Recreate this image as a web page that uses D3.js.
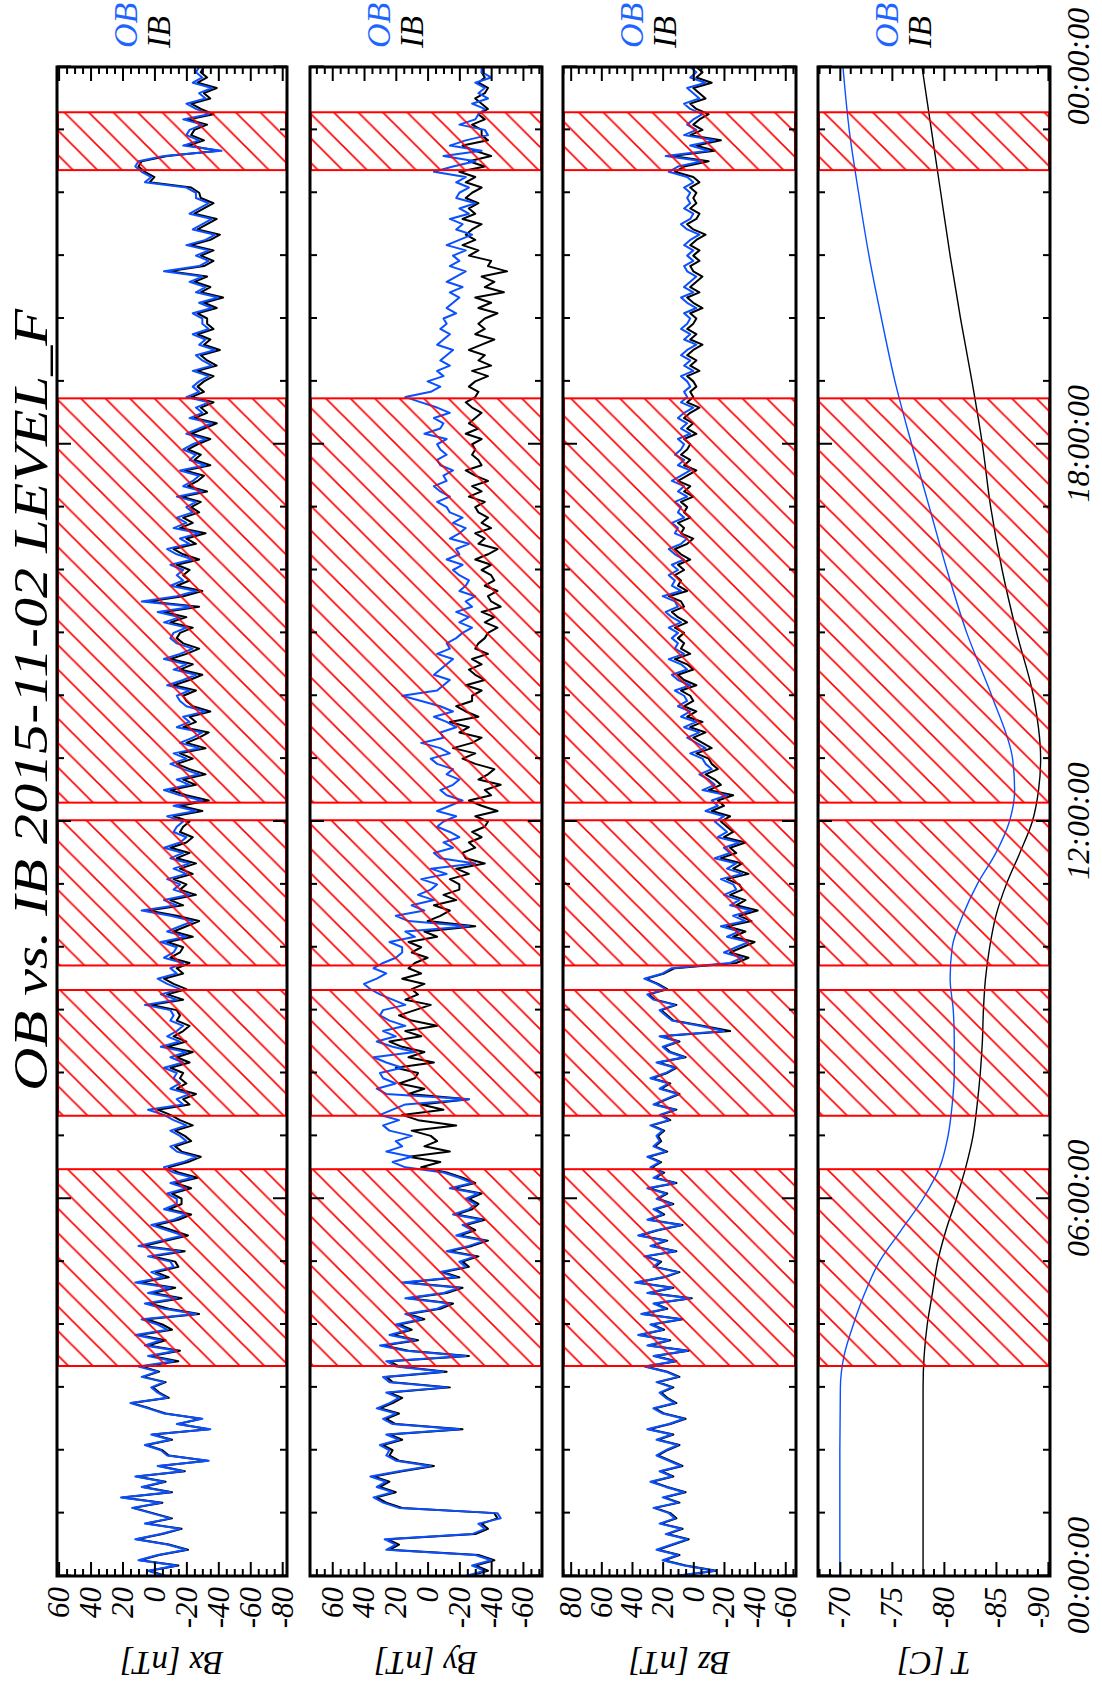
<!DOCTYPE html>
<html><head><meta charset="utf-8">
<script src="https://cdn.jsdelivr.net/npm/d3@7"></script>
<style>body{margin:0;background:#fff}svg{display:block}text{font-family:"Liberation Serif","DejaVu Serif",serif;font-style:italic}</style>
</head><body>
<svg id="c" width="1102" height="1685"></svg>
<script>
// ---------------- DATA ----------------
const titleText = "OB vs. IB  2015-11-02 LEVEL_F";
const timeTicks = [0, 6, 12, 18, 24];
const timeLabels = ["00:00:00", "06:00:00", "12:00:00", "18:00:00", "00:00:00"];
const shadeStart = [3.34, 7.32, 9.71, 12.30, 22.36];
const shadeEnd   = [6.47, 9.32, 12.02, 18.73, 23.28];

// B field: samples every 5 minutes, 00:00 .. 24:00 (one row per hour)
const bxOB = [
 -6,4,-14,10,-2,-20,-8,12,-4,-16,6,-10,
 2,14,-4,21,-10,8,-6,12,-18,-2,-34,-8,
 -4,6,-10,2,-35,-14,-30,-6,4,15,-8,-2,
 2,-6,8,-2,10,-12,4,-14,6,-4,12,-8,
 -2,8,-26,-6,6,-14,4,-10,12,-6,2,-12,
 -10,4,-16,10,-4,-18,-8,2,-12,-20,-6,-14,
 -14,-8,-20,-10,-24,-12,-6,-18,-26,-14,-10,-20,
 -16,-10,-20,-12,-6,4,-18,-14,-22,-10,-16,-12,
 -14,-6,-18,-10,-20,-4,-16,-8,-14,-18,-10,-12,
 -10,6,-14,-4,-16,-8,-2,-14,-10,-18,-6,-12,
 -14,-4,-20,-8,-16,-24,-10,8,-14,-6,-22,-12,
 -16,-8,-20,-12,-22,-10,-18,-6,-16,-20,-12,-14,
 -18,-8,-26,-12,-30,-16,-6,-22,-14,-28,-18,-10,
 -20,-12,-28,-16,-24,-30,-14,-22,-18,-32,-20,-16,
 -14,-22,-8,-18,-26,-12,-20,-6,-16,-24,-14,-10,
 -12,-20,-6,-16,-2,-24,8,-14,-26,-10,-18,-14,
 -18,-10,-24,-14,-8,-22,-16,-28,-12,-20,-14,-24,
 -20,-26,-14,-30,-18,-24,-28,-16,-32,-22,-26,-18,
 -24,-32,-20,-28,-36,-22,-30,-26,-34,-20,-28,-24,
 -28,-34,-24,-36,-30,-26,-38,-28,-32,-24,-34,-30,
 -30,-24,-36,-28,-40,-26,-32,-22,-30,-6,-28,-34,
 -26,-34,-20,-32,-38,-24,-30,-36,-22,-28,-34,-26,
 -26,-20,6,2,8,12,10,-6,-42,-18,-28,-20,
 -22,-30,-18,-34,-26,-20,-32,-28,-36,-24,-30,-26,
 -28];
const bxIB = [
 -7,3,-15,9,-3,-21,-9,11,-5,-17,5,-11,
 1,13,-5,20,-11,7,-7,11,-19,-3,-33,-9,
 -5,5,-11,1,-34,-15,-29,-7,3,14,-9,-3,
 1,-7,7,-3,8,-15,2,-16,4,-7,10,-11,
 -5,5,-28,-9,3,-17,1,-13,9,-9,-1,-15,
 -13,1,-19,7,-7,-21,-11,-1,-15,-23,-9,-17,
 -17,-11,-23,-13,-27,-15,-9,-21,-29,-17,-13,-23,
 -19,-13,-24,-16,-10,-2,-22,-18,-26,-14,-20,-16,
 -18,-10,-22,-14,-24,-8,-20,-12,-18,-22,-14,-16,
 -14,2,-18,-8,-20,-12,-6,-18,-14,-22,-10,-16,
 -18,-8,-24,-12,-20,-28,-14,4,-18,-10,-26,-16,
 -20,-12,-24,-16,-26,-14,-22,-10,-20,-24,-16,-18,
 -22,-12,-30,-16,-34,-20,-10,-26,-18,-32,-22,-14,
 -24,-16,-32,-20,-28,-34,-18,-26,-22,-35,-24,-20,
 -18,-26,-12,-22,-30,-16,-24,-10,-20,-28,-18,-14,
 -16,-24,-10,-20,-6,-28,4,-18,-30,-14,-22,-18,
 -22,-14,-28,-18,-12,-26,-20,-32,-16,-24,-18,-28,
 -23,-29,-17,-33,-21,-27,-31,-19,-35,-25,-29,-21,
 -27,-35,-23,-31,-39,-25,-33,-29,-37,-23,-31,-27,
 -31,-37,-27,-39,-33,-29,-41,-31,-35,-27,-37,-33,
 -33,-27,-39,-31,-43,-29,-35,-25,-33,-9,-31,-37,
 -29,-37,-23,-35,-41,-27,-33,-39,-25,-31,-37,-29,
 -28,-23,3,0,6,10,8,-8,-40,-21,-31,-23,
 -25,-33,-21,-37,-29,-23,-35,-31,-39,-27,-33,-29,
 -31];
const byOB = [
 -24,-36,-28,-40,-30,26,20,27,-28,-36,-32,-46,
 -44,18,28,34,22,32,26,36,18,-2,20,26,
 24,30,18,26,-20,22,28,20,32,24,18,26,
 -12,24,28,-10,20,26,-24,14,30,8,24,12,
 20,4,14,-6,-14,14,-10,-20,16,-18,-8,-24,
 -20,-30,-12,-26,-36,-18,-28,-22,-34,-16,-26,-30,
 -24,-32,-14,-28,-20,-10,14,22,10,26,16,20,
 10,24,28,18,30,22,14,-26,26,32,20,28,
 30,16,26,34,8,22,32,20,28,14,24,30,
 28,14,22,30,36,40,32,26,34,28,20,16,
 16,24,8,14,-26,12,20,2,10,-4,6,-2,
 -6,4,-12,-2,-30,-8,-4,-16,-10,-20,-14,-6,
 -10,-18,-6,-14,-22,-12,-8,-16,-20,-12,-16,-6,
 -2,-14,-8,4,-10,-8,-18,-12,-4,-16,-8,4,
 16,-6,-10,-14,-4,-8,-12,-16,-6,-14,-12,-18,
 -22,-28,-20,-26,-18,-28,-24,-30,-20,-24,-26,-20,
 -16,-22,-12,-20,-18,-26,-14,-20,-24,-16,-22,-14,
 -12,-6,-14,-8,-4,-12,-10,-16,-8,-6,-12,-8,
 -6,-12,2,-8,-10,-4,-14,-6,4,14,-2,-8,
 0,-10,-6,-14,-8,-12,-16,-6,-10,-14,-8,-12,
 -10,-18,-12,-16,-20,-14,-22,-12,-18,-24,-14,-20,
 -16,-24,-12,-20,-28,-18,-22,-14,-26,-20,-30,-18,
 -20,-26,-18,-24,-4,-16,-30,-10,-34,-14,-24,-38,
 -36,-20,-30,-32,-36,-28,-38,-32,-36,-30,-40,-34,
 -34];
const byIB = [
 -26,-38,-30,-42,-32,24,18,25,-30,-38,-34,-44,
 -42,16,26,32,20,30,24,34,16,-4,18,24,
 22,28,16,24,-22,20,26,18,30,22,16,24,
 -14,22,26,-12,18,24,-26,12,28,6,22,10,
 18,2,12,-8,-16,12,-12,-22,14,-20,-10,-26,
 -22,-32,-14,-28,-38,-20,-30,-24,-36,-18,-28,-32,
 -26,-34,-16,-30,-22,-12,4,-8,12,-14,2,-6,
 -2,10,-18,6,16,-10,4,-26,12,2,18,8,
 6,20,-4,12,2,16,24,4,14,-6,10,18,
 8,-2,14,6,10,2,16,4,12,8,0,10,
 4,12,-6,2,-30,0,-8,-14,-4,-18,-10,-20,
 -20,-14,-26,-18,-36,-24,-22,-30,-26,-34,-28,-36,
 -38,-30,-44,-34,-26,-40,-36,-46,-32,-38,-42,-30,
 -22,-30,-16,-28,-34,-20,-26,-14,-32,-24,-18,-28,
 -28,-34,-24,-36,-30,-26,-34,-28,-38,-30,-32,-36,
 -38,-44,-36,-42,-34,-46,-40,-38,-44,-36,-42,-40,
 -34,-40,-30,-38,-44,-32,-36,-30,-40,-34,-38,-32,
 -30,-36,-26,-34,-28,-38,-30,-24,-34,-32,-28,-30,
 -28,-34,-24,-32,-26,-30,-34,-28,-24,-30,-32,-26,
 -30,-38,-28,-40,-32,-36,-26,-34,-42,-30,-36,-32,
 -36,-44,-32,-40,-30,-48,-36,-42,-34,-50,-38,-40,
 -26,-32,-22,-30,-24,-28,-34,-22,-30,-26,-32,-24,
 -28,-34,-24,-30,-20,-36,-26,-40,-30,-22,-38,-34,
 -34,-28,-36,-32,-38,-34,-30,-36,-38,-32,-36,-34,
 -35];
const bzOB = [
 12,-14,6,20,10,24,14,4,18,8,22,12,
 16,26,10,20,6,18,28,14,22,8,16,24,
 18,10,24,14,30,16,6,20,26,12,18,22,
 14,24,10,18,32,12,26,4,30,16,36,20,
 28,8,34,18,26,2,30,14,38,20,10,26,
 22,32,12,28,18,36,24,8,30,20,26,14,
 24,18,30,12,26,20,28,22,30,18,26,22,
 24,20,28,16,22,12,26,18,10,22,16,28,
 18,12,24,6,16,20,10,22,-20,-4,14,18,
 22,12,26,30,18,24,32,20,14,-24,-32,-20,
 -28,-36,-22,-30,-18,-34,-26,-38,-24,-30,-20,-28,
 -26,-18,-32,-22,-28,-14,-24,-20,-30,-16,-22,-18,
 -14,-20,-8,-16,-12,-22,-6,-14,-10,-4,-12,-8,
 -6,2,-8,-2,4,-4,6,-2,8,2,10,4,
 6,12,2,10,14,4,8,16,6,12,10,14,
 10,16,8,14,18,10,12,20,8,14,12,16,
 10,14,6,12,16,8,4,12,10,14,6,10,
 8,12,4,10,6,14,8,2,10,6,12,8,
 6,10,2,8,4,10,6,0,8,4,6,2,
 4,8,0,6,2,8,4,-2,6,2,8,4,
 2,6,-2,4,8,0,6,2,-2,4,6,0,
 4,0,6,2,-4,4,8,2,0,6,2,4,
 2,6,0,4,16,10,-6,18,-10,2,-14,6,
 -2,4,0,-6,2,6,-4,0,4,-8,2,-2,
 2];
const bzIB = [
 11,-15,5,19,9,23,13,3,17,7,21,11,
 15,25,9,19,5,17,27,13,21,7,15,23,
 17,9,23,13,29,15,5,19,25,11,17,21,
 13,23,9,17,31,11,25,3,29,15,35,19,
 27,7,33,17,25,1,29,13,37,19,9,25,
 21,31,11,27,17,35,23,7,29,19,25,13,
 23,17,29,11,25,19,27,21,29,17,25,21,
 23,19,27,15,21,11,25,17,9,21,15,27,
 17,11,23,5,15,19,9,21,-24,-6,13,17,
 21,11,25,29,17,23,31,19,12,-28,-36,-24,
 -32,-40,-26,-34,-22,-38,-30,-42,-28,-34,-24,-32,
 -30,-22,-36,-26,-32,-18,-28,-24,-34,-20,-26,-22,
 -18,-24,-12,-20,-16,-26,-10,-18,-14,-8,-16,-12,
 -10,-2,-12,-6,0,-8,2,-6,4,-2,6,0,
 2,8,-2,6,10,0,4,12,2,8,6,10,
 6,12,4,10,14,6,8,16,4,10,8,12,
 6,10,2,8,12,4,0,8,6,10,2,6,
 4,8,0,6,2,10,4,-2,6,2,8,4,
 2,6,-2,4,0,6,2,-4,4,0,2,-2,
 0,4,-4,2,-2,4,0,-6,2,-2,4,0,
 -2,2,-6,0,4,-4,2,-2,-6,0,2,-4,
 0,-4,2,-2,-8,0,4,-2,-4,2,-2,0,
 -2,2,-4,0,12,6,-10,14,-14,-2,-18,2,
 -6,0,-4,-10,-2,2,-8,-4,0,-12,-2,-6,
 -2];

// temperatures
const tTime = [0,1,2,3,3.5,4,4.5,5,5.5,6,6.5,7,7.5,8,8.5,9,9.5,10,10.5,11,11.5,12,12.5,13,14,15,16,17,18,19,20,21,22,23,24];
const tOB = [-70,-70,-70,-70.05,-70.4,-71.3,-72.4,-73.8,-75.9,-78,-79.6,-80.4,-80.8,-81,-81,-80.9,-80.6,-80.8,-81.8,-83.2,-85,-86.3,-86.8,-86.6,-84.6,-82.2,-80.3,-78.6,-76.9,-75.3,-74,-72.8,-71.8,-70.9,-70.3];
const tIB = [-78,-78,-78,-78,-78.1,-78.4,-78.9,-79.4,-80.2,-81.2,-82.1,-82.8,-83.2,-83.5,-83.7,-83.8,-84,-84.4,-85,-86,-87.3,-88.5,-89.1,-89.3,-88.6,-87,-85.6,-84.5,-83.7,-82.7,-81.6,-80.6,-79.7,-78.8,-77.9];

const bxTicks = [60,40,20,0,-20,-40,-60,-80];
const byTicks = [60,40,20,0,-20,-40,-60];
const bzTicks = [80,60,40,20,0,-20,-40,-60];
const tTicks = [-70,-75,-80,-85,-90];

// ---------------- LAYOUT ----------------
const W = 1685;
const BLUE = "#0a50ff", LBLUE = "#1e64ff";
const svg = d3.select("#c");
const defs = svg.append("defs");
const pat = defs.append("pattern").attr("id","hatch").attr("patternUnits","userSpaceOnUse")
  .attr("x",20).attr("width",24.5).attr("height",24.5);
pat.append("path").attr("d","M-3,3 L3,-3 M0,24.5 L24.5,0 M21.5,27.5 L27.5,21.5")
  .attr("stroke","#ff0000").attr("stroke-width",1.6).attr("fill","none");

const g = svg.append("g").attr("transform",`translate(0,${W}) rotate(-90)`);
const x = d3.scaleLinear().domain([0,24]).range([109,1618]);
const grid = arr => arr.map((_,i)=>i*24/(arr.length-1));

const panels = [
 {title:"Bx [nT]", dom:[61,-83], top:57, bot:287, ticks:bxTicks, minor:5, ob:bxOB, ib:bxIB, tob:grid(bxOB), tib:grid(bxIB), curve:d3.curveLinear, w:2},
 {title:"By [nT]", dom:[74,-72], top:310, bot:542, ticks:byTicks, minor:5, ob:byOB, ib:byIB, tob:grid(byOB), tib:grid(byIB), curve:d3.curveLinear, w:2},
 {title:"Bz [nT]", dom:[85,-67], top:563, bot:796, ticks:bzTicks, minor:5, ob:bzOB, ib:bzIB, tob:grid(bzOB), tib:grid(bzIB), curve:d3.curveLinear, w:2},
 {title:"T [C]", dom:[-67.9,-90.2], top:818, bot:1050, ticks:tTicks, minor:1, ob:tOB, ib:tIB, tob:tTime, tib:tTime, curve:d3.curveMonotoneX, w:1.4}
];

// title
g.append("text").attr("x",594).attr("y",47).attr("font-size",48)
  .attr("textLength",782).attr("lengthAdjust","spacingAndGlyphs").text(titleText);

panels.forEach((p,pi)=>{
  const y = d3.scaleLinear().domain(p.dom).range([p.top,p.bot]);
  const cid = "clip"+pi;
  defs.append("clipPath").attr("id",cid).append("rect")
    .attr("x",x(0)).attr("y",p.top).attr("width",x(24)-x(0)).attr("height",p.bot-p.top);
  const pg = g.append("g").attr("clip-path",`url(#${cid})`);
  const line = (arr,ts) => d3.line().x((d,i)=>x(ts[i])).y(d=>y(d)).curve(p.curve)(arr);
  pg.append("path").attr("d",line(p.ib,p.tib)).attr("fill","none").attr("stroke","#000").attr("stroke-width",p.w).attr("stroke-linejoin","round");
  pg.append("path").attr("d",line(p.ob,p.tob)).attr("fill","none").attr("stroke",BLUE).attr("stroke-width",p.w).attr("stroke-linejoin","round");
  shadeStart.forEach((s,k)=>{
    pg.append("rect").attr("x",x(s)).attr("y",p.top+1).attr("width",x(shadeEnd[k])-x(s)).attr("height",p.bot-p.top-2)
      .attr("fill","url(#hatch)").attr("stroke","#ff0000").attr("stroke-width",2);
  });
  g.append("rect").attr("x",x(0)).attr("y",p.top).attr("width",x(24)-x(0)).attr("height",p.bot-p.top)
    .attr("fill","none").attr("stroke","#000").attr("stroke-width",3);
  const lo = Math.min(...p.dom), hi = Math.max(...p.dom);
  const minorVals = d3.range(Math.ceil(lo/p.minor)*p.minor, hi+0.001, p.minor).filter(v=>!p.ticks.includes(v));
  const styleAxis = sel => { sel.select(".domain").remove(); sel.selectAll(".tick line").attr("stroke","#000").attr("stroke-width",2); };
  const left = g.append("g").attr("transform",`translate(${x(0)},0)`)
    .call(d3.axisLeft(y).tickValues(p.ticks).tickSize(-14).tickPadding(11).tickFormat(d=>String(d)));
  styleAxis(left);
  left.selectAll("text").attr("font-size",31).attr("font-family","Liberation Serif").attr("fill","#000");
  if (pi===3) left.selectAll(".tick").filter(d=>d===-90).select("text").attr("y",-9);
  g.append("g").attr("transform",`translate(${x(0)},0)`).call(d3.axisLeft(y).tickValues(minorVals).tickSize(-7).tickFormat("")).call(styleAxis);
  g.append("g").attr("transform",`translate(${x(24)},0)`).call(d3.axisRight(y).tickValues(p.ticks).tickSize(-14).tickFormat("")).call(styleAxis);
  g.append("g").attr("transform",`translate(${x(24)},0)`).call(d3.axisRight(y).tickValues(minorVals).tickSize(-7).tickFormat("")).call(styleAxis);
  const hours = d3.range(1,24).filter(h=>!timeTicks.includes(h));
  g.append("g").attr("transform",`translate(0,${p.top})`).call(d3.axisTop(x).tickValues(timeTicks).tickSize(-14).tickFormat("")).call(styleAxis);
  g.append("g").attr("transform",`translate(0,${p.top})`).call(d3.axisTop(x).tickValues(hours).tickSize(-7).tickFormat("")).call(styleAxis);
  const bt = g.append("g").attr("transform",`translate(0,${p.bot})`)
    .call(d3.axisBottom(x).tickValues(timeTicks).tickSize(-14).tickPadding(16).tickFormat((d,i)=> pi===3 ? timeLabels[i] : ""));
  styleAxis(bt);
  bt.selectAll("text").attr("font-size",32).attr("font-family","Liberation Serif").attr("fill","#000");
  g.append("g").attr("transform",`translate(0,${p.bot})`).call(d3.axisBottom(x).tickValues(hours).tickSize(-7).tickFormat("")).call(styleAxis);
  g.append("text").attr("transform",`translate(33,${(p.top+p.bot)/2}) rotate(-90)`)
    .attr("text-anchor","middle").attr("font-size",33).text(p.title);
  g.append("text").attr("x",1637).attr("y",p.top+80).attr("font-size",34).attr("fill",LBLUE).text("OB");
  g.append("text").attr("x",1637).attr("y",p.top+113).attr("font-size",34).attr("fill","#000").text("IB");
});
</script>
</body></html>
